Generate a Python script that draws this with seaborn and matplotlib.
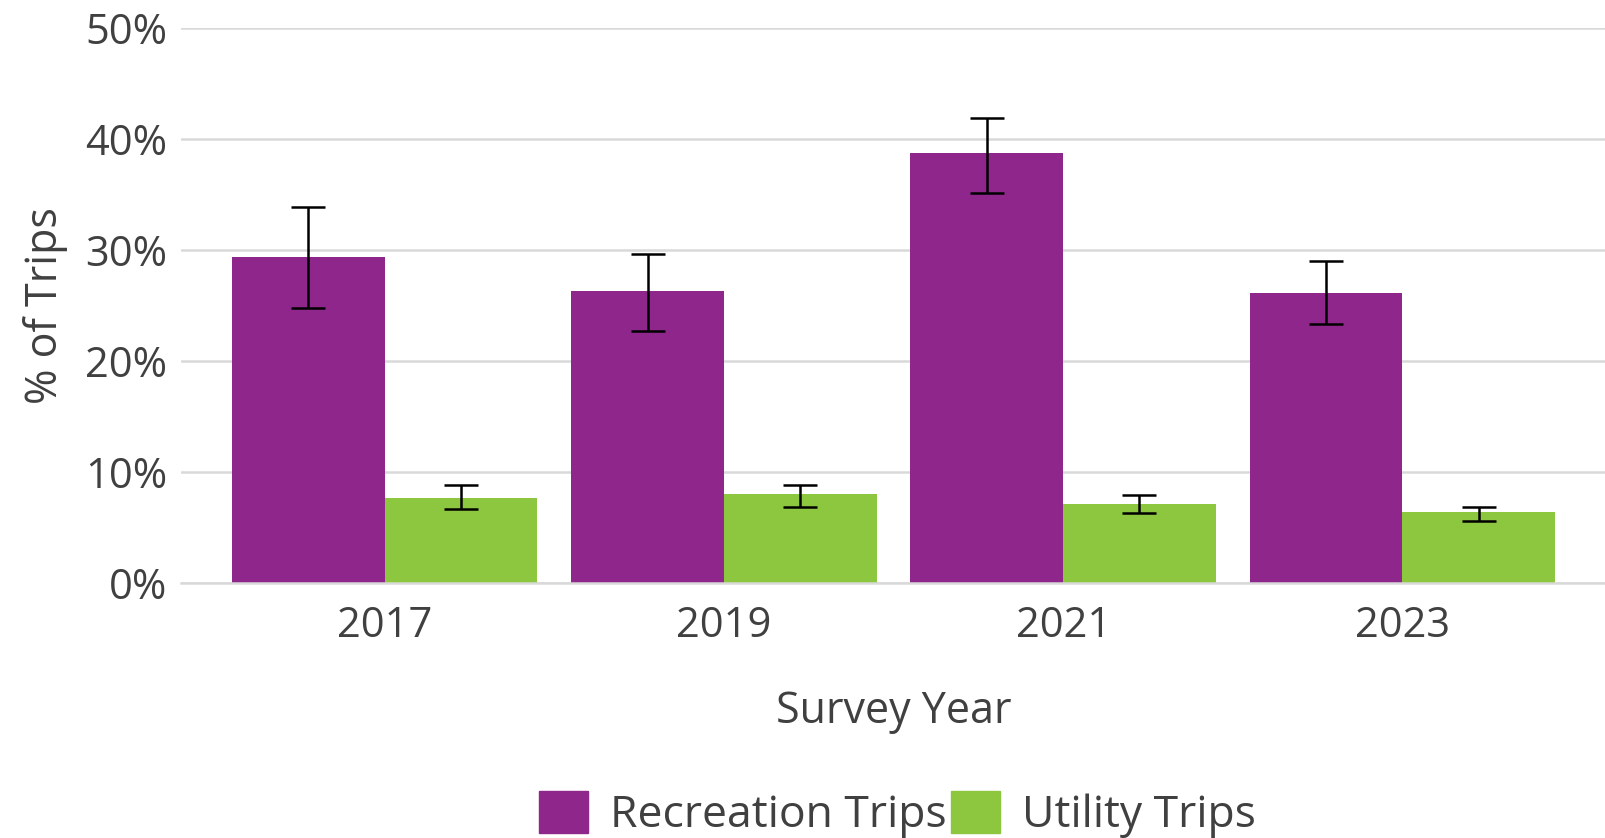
import matplotlib
matplotlib.use("Agg")
import matplotlib.pyplot as plt
import pandas as pd
import seaborn as sns
from matplotlib.ticker import FuncFormatter

years = ["2017", "2019", "2021", "2023"]
series = ["Recreation Trips", "Utility Trips"]
recreation = [29.4, 26.3, 38.7, 26.1]
recreation_lo = [24.8, 22.7, 35.1, 23.3]
recreation_hi = [33.9, 29.6, 41.9, 29.0]
utility = [7.7, 8.0, 7.1, 6.4]
utility_lo = [6.7, 6.9, 6.3, 5.6]
utility_hi = [8.8, 8.8, 7.9, 6.9]

colors = {"Recreation Trips": "#8f268b", "Utility Trips": "#8dc63f"}
TEXT = "#404040"

df = pd.DataFrame({
    "year": years * 2,
    "series": [series[0]] * 4 + [series[1]] * 4,
    "share": recreation + utility,
    "lo": recreation_lo + utility_lo,
    "hi": recreation_hi + utility_hi,
})

sns.set_theme(style="white")
plt.rcParams["font.family"] = ["Open Sans", "DejaVu Sans"]

fig = plt.figure(figsize=(16.06, 8.38), dpi=100)
ax = fig.add_axes([0.1127, 0.304, 0.8873, 0.663])

sns.barplot(data=df, x="year", y="share", hue="series", palette=colors,
            order=years, hue_order=series, width=0.9, gap=0,
            errorbar=None, saturation=1, linewidth=0, legend=False, ax=ax)

# error bars on top of each bar
for cont, name in zip(ax.containers, series):
    sub = df[df["series"] == name].set_index("year").loc[years]
    xs = [b.get_x() + b.get_width() / 2 for b in cont]
    yerr = [sub["share"] - sub["lo"], sub["hi"] - sub["share"]]
    ax.errorbar(xs, sub["share"], yerr=yerr, fmt="none", ecolor="black",
                elinewidth=1.8, capsize=12, capthick=1.8, zorder=5)

ax.set_ylim(0, 50)
ax.set_xlim(-0.6, 3.6)
ax.set_yticks([0, 10, 20, 30, 40, 50])
ax.yaxis.set_major_formatter(FuncFormatter(lambda v, _: f"{v:.0f}%"))
ax.grid(axis="y", color="#d9d9d9", linewidth=1.8)
ax.set_axisbelow(True)
for s in ["top", "right", "left"]:
    ax.spines[s].set_visible(False)
ax.spines["bottom"].set_color("#d9d9d9")
ax.spines["bottom"].set_linewidth(1.8)
ax.tick_params(axis="x", length=0, labelsize=30, colors=TEXT, pad=16)
ax.tick_params(axis="y", length=0, labelsize=30, colors=TEXT, pad=10)

ax.set_xlabel("Survey Year", fontsize=31, color=TEXT, labelpad=30)
ax.set_ylabel("% of Trips", fontsize=31, color=TEXT, labelpad=12)

handles = [plt.Rectangle((0, 0), 1, 1, color=colors[s]) for s in series]
fig.legend(handles, series, loc="center", bbox_to_anchor=(0.559, 0.028),
           ncol=2, frameon=False, fontsize=32, labelcolor=TEXT,
           handlelength=1.1, handleheight=1.1, handletextpad=0.5,
           columnspacing=0.1, borderpad=0)

fig.savefig("out.png", dpi=100)
plt.close(fig)
